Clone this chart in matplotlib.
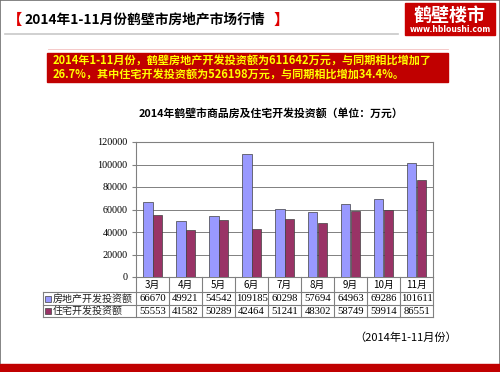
import numpy as np
import matplotlib
matplotlib.use('Agg')
import matplotlib.pyplot as plt
from matplotlib.patches import Rectangle
from matplotlib.lines import Line2D
import matplotlib.transforms as mtransforms

plt.rcParams['font.family'] = ['Noto Sans CJK SC', 'DejaVu Sans']

months = ['3月', '4月', '5月', '6月', '7月', '8月', '9月', '10月', '11月']
dev_invest = [66670, 49921, 54542, 109185, 60298, 57694, 64963, 69286, 101611]
res_invest = [55553, 41582, 50289, 42464, 51241, 48302, 58749, 59914, 86551]
series_names = ['房地产开发投资额', '住宅开发投资额']
yticks = [0, 20000, 40000, 60000, 80000, 100000, 120000]

W, H = 500, 372
fig = plt.figure(figsize=(W / 100, H / 100), dpi=100)


def fx(px):
    return px / W


def fy(py):
    return 1 - py / H


def hline(x0, x1, y, color='#808080', lw=0.8):
    fig.add_artist(Line2D([fx(x0), fx(x1)], [fy(y), fy(y)], color=color, lw=lw,
                          transform=fig.transFigure))


def vline(x, y0, y1, color='#808080', lw=0.8):
    fig.add_artist(Line2D([fx(x), fx(x)], [fy(y0), fy(y1)], color=color, lw=lw,
                          transform=fig.transFigure))


# slide frame and header
fig.add_artist(Rectangle((0, 0), 1, 1, transform=fig.transFigure, fill=False,
                         ec='#707070', lw=1.2))
fig.text(fx(7), fy(20), '【', color='#E00000', fontsize=11, fontweight='bold',
         va='center', ha='left')
fig.text(fx(24), fy(20), '2014年1-11月份鹤壁市房地产市场行情', color='black',
         fontsize=9.9, fontweight='bold', va='center', ha='left')
fig.text(fx(274), fy(20), '】', color='#E00000', fontsize=11, fontweight='bold',
         va='center', ha='left')
hline(5, 398, 34, color='#C8C8C8', lw=1.2)

# logo
fig.add_artist(Rectangle((fx(405), fy(35)), fx(90), 32 / H, transform=fig.transFigure,
                         color='#C80000'))
fig.text(fx(450), fy(15), '鹤壁楼市', color='white', fontsize=13, fontweight='bold',
         va='center', ha='center')
fig.text(fx(450), fy(29), 'www.hbloushi.com', color='white', fontsize=5.5,
         fontweight='bold', va='center', ha='center', family='DejaVu Sans')
hline(48, 448, 49, color='#F4C0C0', lw=0.6)

# summary box
fig.add_artist(Rectangle((fx(47), fy(82)), fx(401), 29 / H, transform=fig.transFigure,
                         color='#C00000'))
fig.text(fx(53), fy(60), '2014年1-11月份，鹤壁房地产开发投资额为611642万元，与同期相比增加了',
         color='#FFFF00', fontsize=8.0, fontweight='bold', va='center', ha='left')
fig.text(fx(53), fy(74), '26.7%，其中住宅开发投资额为526198万元，与同期相比增加34.4%。',
         color='#FFFF00', fontsize=8.0, fontweight='bold', va='center', ha='left')

# chart title
fig.text(fx(271), fy(113), '2014年鹤壁市商品房及住宅开发投资额（单位：万元）',
         color='black', fontsize=7.8, fontweight='bold', va='center', ha='center')

# plot
ax_l, ax_r, ax_t, ax_b = 136, 433, 142, 277
ax = fig.add_axes([fx(ax_l), fy(ax_b), fx(ax_r - ax_l), (ax_b - ax_t) / H])
x = np.arange(len(months))
bw = 0.3
ax.bar(x - bw / 2, dev_invest, bw, color='#9999FF', edgecolor='#404040', lw=0.5,
       zorder=3)
ax.bar(x + bw / 2, res_invest, bw, color='#993366', edgecolor='#404040', lw=0.5,
       zorder=3)
ax.set_xlim(-0.5, len(months) - 0.5)
ax.set_ylim(0, 120000)
ax.set_yticks(yticks)
ax.set_yticklabels([str(v) for v in yticks], family='Liberation Serif', fontsize=7.3)
ax.tick_params(axis='y', length=3, color='#808080', pad=3)
ax.set_xticks([])
ax.grid(axis='y', color='#808080', lw=0.7, zorder=0)
for s in ax.spines.values():
    s.set_color('#808080')
    s.set_linewidth(0.8)

# data table under the chart
row_y = [277, 292, 305, 317]
trans = mtransforms.blended_transform_factory(ax.transData, fig.transFigure)
for i in range(len(months) + 1):
    ax.plot([i - 0.5, i - 0.5], [fy(row_y[0]), fy(row_y[-1])], color='#808080',
            lw=0.8, transform=trans, clip_on=False)
for yy in row_y[1:]:
    hline(43, ax_r, yy)
vline(43, row_y[1], row_y[-1])
for i, m in enumerate(months):
    ax.text(i, fy((row_y[0] + row_y[1]) / 2), m, transform=trans, ha='center',
            va='center', fontsize=7, color='black')
    ax.text(i, fy((row_y[1] + row_y[2]) / 2), str(dev_invest[i]), transform=trans,
            ha='center', va='center', fontsize=7.7, family='Liberation Serif')
    ax.text(i, fy((row_y[2] + row_y[3]) / 2), str(res_invest[i]), transform=trans,
            ha='center', va='center', fontsize=7.7, family='Liberation Serif')
for r, (name, col) in enumerate(zip(series_names, ['#9999FF', '#993366'])):
    yc = (row_y[r + 1] + row_y[r + 2]) / 2
    fig.add_artist(Rectangle((fx(45), fy(yc + 3)), fx(6), 6 / H,
                             transform=fig.transFigure, fc=col, ec='#404040', lw=0.5))
    fig.text(fx(53), fy(yc), name, fontsize=7.2, va='center', ha='left', color='#222222')

# footer
fig.text(fx(406), fy(338), '（2014年1-11月份）', fontsize=8, va='center', ha='center')
fig.add_artist(Rectangle((0, 0), 1, 8 / H, transform=fig.transFigure, color='#C00000'))

plt.savefig('out.png', dpi=100)
